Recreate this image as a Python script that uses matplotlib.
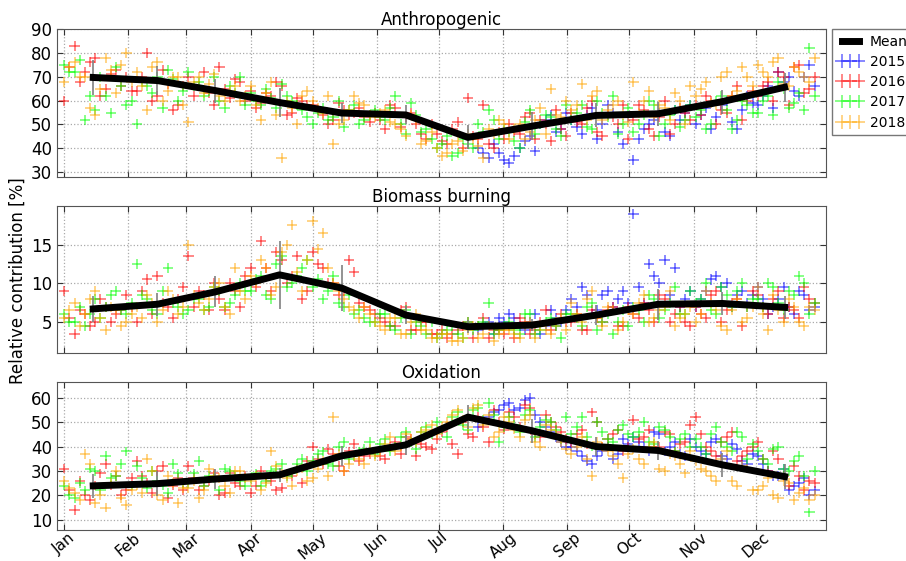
import numpy as np
import matplotlib
matplotlib.use("Agg")
import matplotlib.pyplot as plt

months = ["Jan", "Feb", "Mar", "Apr", "May", "Jun", "Jul", "Aug", "Sep", "Oct", "Nov", "Dec"]
month_start = [0, 31, 59, 90, 120, 151, 181, 212, 243, 273, 304, 334]
month_mid = [14, 45, 73, 104, 134, 165, 195, 226, 257, 287, 318, 348]

days_a = list(range(0, 361, 5))                 # 2016-2018, first sampling
days_b = [d + 2.5 for d in days_a]              # 2016-2018, second sampling
days_2015_a = list(range(200, 361, 5))          # 2015 starts in late July
days_2015_b = [d + 2.5 for d in days_2015_a]

# ---------------- Anthropogenic ----------------
anth_mean = [69.7, 68.4, 64.2, 59.2, 54.8, 54.0, 44.6, 49.3, 53.8, 54.5, 59.6, 65.6]
anth_std = [7.5, 6, 5, 6, 4, 4, 5, 6, 5, 5, 5, 6]
anth_2015 = [40, 36, 38,
             34, 40, 45, 50, 54, 48,
             52, 46, 57, 50, 55, 42,
             35, 48, 52, 47, 56, 55,
             50, 57, 53, 60, 48, 62,
             58, 66, 72, 70, 62, 75]
anth_2015_b = [38, 42, 35,
               37, 43, 39, 52, 47, 55,
               49, 54, 44, 58, 47, 53,
               44, 50, 55, 45, 52, 58,
               54, 48, 58, 51, 56, 59,
               62, 57, 68, 64, 70, 66]
anth_2016 = [60, 83, 72, 78, 65, 73, 70,
             64, 80, 62, 67, 58,
             70, 66, 63, 74, 61, 68,
             64, 59, 62, 66, 55, 60,
             58, 54, 52, 56, 55, 53,
             55, 48, 57, 53, 50, 44,
             46, 42, 51, 61, 44, 42, 47,
             50, 46, 55, 52, 43, 48,
             55, 50, 60, 45, 53, 58,
             52, 56, 45, 60, 50, 55,
             58, 62, 50, 55, 66, 60,
             62, 68, 72, 58, 75, 65]
anth_2016_b = [74, 68, 76, 62, 71, 66, 64,
               70, 60, 73, 56, 66,
               62, 72, 58, 65, 69, 60,
               57, 63, 68, 54, 61, 58,
               56, 50, 59, 54, 57, 51,
               52, 58, 49, 55, 46, 50,
               43, 48, 40, 45, 58, 40, 44,
               47, 53, 44, 50, 56, 45,
               51, 57, 47, 54, 50, 44,
               58, 48, 53, 46, 57, 52,
               54, 60, 56, 62, 52, 64,
               66, 60, 70, 74, 63, 70]
anth_2017 = [75, 72, 52, 56, 62, 74, 58,
             50, 66, 70, 73, 60,
             72, 68, 64, 60, 66, 70,
             63, 58, 61, 67, 60, 56,
             50, 57, 53, 49, 58, 52,
             56, 52, 62, 46, 54, 48,
             40, 45, 38, 42, 50, 56, 44,
             47, 40, 56, 50, 53, 45,
             52, 58, 48, 55, 62, 50,
             47, 54, 58, 50, 56, 52,
             53, 48, 60, 56, 52, 58,
             55, 62, 68, 57, 63, 82]
anth_2017_b = [72, 77, 62, 70, 55, 66, 60,
               68, 63, 57, 69, 64,
               66, 62, 70, 57, 63, 58,
               60, 65, 57, 62, 58, 53,
               55, 52, 60, 56, 50, 54,
               53, 57, 50, 59, 47, 44,
               42, 37, 44, 40, 47, 52, 48,
               43, 51, 46, 54, 48, 58,
               55, 49, 60, 53, 46, 57,
               50, 60, 45, 54, 49, 58,
               56, 50, 62, 48, 60, 55,
               60, 54, 65, 59, 56, 62]
anth_2018 = [68, 76, 70, 54, 78, 63, 80,
             72, 56, 76, 64, 70,
             51, 70, 67, 62, 64, 60,
             66, 52, 68, 36, 57, 62,
             60, 55, 42, 52, 62, 58,
             53, 56, 50, 45, 52, 43,
             40, 38, 43, 46, 41, 48, 52,
             44, 50, 47, 57, 65, 53,
             56, 67, 62, 52, 58, 54,
             68, 60, 53, 57, 63, 50,
             62, 68, 58, 72, 64, 70,
             75, 70, 78, 66, 72, 68]
anth_2018_b = [74, 70, 57, 65, 73, 75, 68,
               66, 74, 60, 70, 58,
               68, 63, 71, 60, 66, 62,
               58, 63, 54, 60, 50, 64,
               57, 62, 50, 56, 59, 54,
               55, 51, 48, 54, 42, 47,
               37, 42, 39, 44, 36, 46, 50,
               48, 44, 52, 46, 54, 60,
               58, 52, 64, 56, 60, 51,
               55, 64, 58, 52, 60, 66,
               65, 59, 70, 62, 74, 66,
               72, 76, 67, 74, 70, 78]

# ---------------- Biomass burning ----------------
bio_mean = [6.7, 7.3, 8.9, 11.1, 9.4, 5.9, 4.4, 4.6, 5.9, 7.3, 7.4, 6.9]
bio_std = [1.7, 1.5, 2.0, 4.4, 3.0, 1.2, 0.8, 0.8, 1.3, 2.0, 1.5, 1.5]
bio_2015 = [4, 5, 5.5,
            6, 4.5, 5, 3.5, 6.5, 5,
            8, 9.5, 6, 8.5, 7, 9,
            19, 7.5, 11, 13, 12, 8,
            7, 9, 11, 10, 8.5, 7.5,
            9.5, 6, 8, 7, 9, 6.5]
bio_2015_b = [4.5, 3.5, 5,
              5.5, 4, 6, 4.5, 5.5, 6.5,
              7, 8.5, 6.5, 9, 8, 7.5,
              9.5, 12.5, 10, 8.5, 7, 9,
              8, 10.5, 9.5, 7, 9, 8.5,
              8, 7, 9.5, 6, 8.5, 7]
bio_2016 = [9, 3.5, 6, 5, 7, 6, 8.5,
            5, 10.5, 11, 7, 8,
            13.5, 9, 6.5, 8, 10, 7,
            12, 15.5, 9, 13, 11, 8,
            14, 12, 10, 9, 11.5, 7,
            6, 5, 4.5, 7, 4, 5,
            3.5, 3, 4, 5, 4.5, 3, 4,
            4.5, 5.5, 3.5, 5, 4, 6,
            5, 4, 6.5, 5, 7, 4.5,
            6, 7.5, 5, 8, 6, 5,
            7, 5.5, 9, 6.5, 8, 7,
            8.5, 6, 9, 7, 5.5, 8]
bio_2016_b = [5.5, 6.5, 4.5, 8, 5, 6.5, 7,
              9, 6, 7.5, 5.5, 9.5,
              7, 8.5, 10, 6.5, 9, 11,
              9.5, 12, 14, 10, 13.5, 9,
              12.5, 10, 8.5, 13, 7.5, 6.5,
              5.5, 4.5, 6.5, 4, 5, 3.5,
              4, 3.5, 4.5, 3, 5.5, 4, 3.5,
              3, 5, 4, 6.5, 4.5, 5,
              6, 4, 5.5, 6.5, 4.5, 7,
              5.5, 6.5, 8.5, 5, 7, 4.5,
              6, 8.5, 5, 7.5, 4.5, 9,
              7, 8, 5.5, 6.5, 9.5, 7.5]
bio_2017 = [6, 5, 4.5, 8, 7, 9, 6,
            12.5, 8, 6, 12, 7,
            6.5, 8, 7, 9, 7.5, 10,
            9, 11, 8, 13.5, 10, 12,
            9.5, 8, 11, 7, 6, 5.5,
            5, 6, 4, 6.5, 5, 3.5,
            3, 4, 3.5, 5, 4.5, 7.5, 4,
            5, 3.5, 6, 4, 5.5, 3,
            6, 4.5, 7.5, 5, 3.5, 6.5,
            7, 5, 8, 6.5, 9.5, 6,
            7.5, 10, 6, 8.5, 9, 7,
            8, 10, 7.5, 9, 11, 6]
bio_2017_b = [5, 7, 6, 5.5, 8.5, 6.5, 7.5,
              8.5, 6.5, 9, 7.5, 6,
              8, 6.5, 9.5, 7, 8.5, 9,
              10.5, 8.5, 12.5, 9.5, 11, 13,
              10.5, 9, 7.5, 8.5, 6.5, 5,
              6, 4.5, 5.5, 3.5, 4.5, 5,
              3.5, 4.5, 3, 4, 5, 3.5, 4.5,
              4, 6, 3.5, 5, 4.5, 6,
              5.5, 7, 4, 6, 5, 4.5,
              6.5, 8.5, 5.5, 7.5, 6, 9,
              8, 6.5, 9.5, 7, 10, 8,
              7, 9.5, 6.5, 8.5, 10, 7.5]
bio_2018 = [5.5, 7.5, 6, 9, 4, 6.5, 5,
            7, 8.5, 5, 9, 6,
            15, 7.5, 8, 10, 6, 9,
            11, 13, 8.5, 14, 17.5, 9,
            18, 16.5, 10, 8, 6.5, 7,
            5, 4, 5.5, 3.5, 6, 4,
            3, 3.5, 2.5, 4, 3, 4.5, 3.5,
            4, 3, 5, 4.5, 3.5, 5.5,
            7.5, 5, 9, 4.5, 6.5, 5,
            6, 8.5, 5.5, 7, 4.5, 6,
            5, 9, 6.5, 4, 8, 5.5,
            9.5, 4, 6.5, 8, 5, 7]
bio_2018_b = [6.5, 4.5, 8, 5.5, 7, 4.5, 6,
              5.5, 7.5, 6.5, 8, 7,
              8.5, 6.5, 9.5, 7, 12, 8,
              10, 12, 9.5, 15, 11.5, 13,
              14.5, 12, 9, 7, 5.5, 6,
              4.5, 5.5, 3.5, 5, 4, 3,
              3.5, 2.5, 3, 4.5, 3.5, 2.5, 4,
              3.5, 4.5, 3, 4, 5, 4,
              6, 8, 5.5, 7, 4, 6.5,
              7.5, 5, 6.5, 9, 5.5, 7,
              6, 7.5, 4.5, 6.5, 5, 7,
              6, 8.5, 5, 7, 4.5, 6.5]

# ---------------- Oxidation ----------------
oxi_mean = [23.9, 24.8, 26.7, 28.4, 36.2, 40.7, 52.1, 46.5, 40.0, 38.4, 32.5, 27.7]
oxi_std = [5, 5, 4, 3, 4, 4, 5, 5, 4, 4, 5, 5]
oxi_2015 = [48, 52, 55,
            58, 56, 60, 50, 46, 42,
            40, 36, 33, 38, 35, 43,
            44, 40, 46, 38, 42, 36,
            40, 37, 43, 35, 39, 33,
            36, 30, 28, 22, 25, 20]
oxi_2015_b = [50, 54, 57,
              55, 59, 53, 48, 44, 40,
              38, 34, 36, 40, 37, 41,
              42, 38, 45, 40, 37, 43,
              38, 42, 36, 41, 34, 37,
              33, 28, 31, 24, 27, 22]
oxi_2016 = [31, 14, 20, 24, 33, 28, 22,
            34, 25, 30, 19, 27,
            32, 22, 26, 20, 29, 24,
            21, 30, 26, 23, 28, 25,
            40, 33, 37, 30, 41, 36,
            38, 35, 42, 44, 36, 40,
            43, 48, 37, 45, 52, 42, 50,
            54, 48, 56, 44, 50, 46,
            42, 47, 54, 40, 45, 38,
            51, 44, 40, 46, 38, 42,
            52, 40, 36, 44, 34, 38,
            42, 30, 35, 24, 28, 26]
oxi_2016_b = [22, 26, 18, 29, 24, 20, 27,
              28, 21, 32, 24, 22,
              27, 24, 29, 21, 25, 28,
              24, 27, 22, 29, 31, 34,
              35, 39, 32, 38, 34, 37,
              36, 40, 37, 43, 41, 39,
              46, 41, 50, 44, 48, 55, 47,
              52, 57, 45, 53, 48, 43,
              45, 41, 50, 43, 47, 40,
              43, 47, 40, 45, 41, 49,
              45, 38, 42, 46, 36, 40,
              35, 38, 28, 32, 22, 25]
oxi_2017 = [24, 19, 22, 30, 36, 28, 38,
            32, 23, 26, 21, 29,
            25, 34, 28, 22, 30, 26,
            27, 24, 30, 33, 29, 35,
            34, 38, 32, 42, 36, 39,
            37, 43, 40, 46, 39, 48,
            50, 44, 54, 47, 56, 58, 42,
            52, 46, 55, 48, 50, 43,
            45, 52, 40, 46, 42, 49,
            44, 50, 41, 47, 38, 45,
            43, 37, 48, 40, 46, 35,
            38, 33, 40, 30, 36, 13]
oxi_2017_b = [20, 25, 31, 22, 27, 33, 24,
              27, 30, 24, 33, 25,
              29, 24, 27, 31, 28, 24,
              29, 26, 31, 28, 33, 30,
              37, 33, 40, 35, 38, 42,
              41, 38, 44, 42, 46, 45,
              47, 52, 49, 55, 51, 53, 48,
              49, 53, 44, 51, 47, 52,
              48, 44, 50, 43, 47, 45,
              46, 42, 48, 44, 43, 40,
              40, 45, 42, 38, 44, 41,
              35, 39, 31, 34, 28, 30]
oxi_2018 = [26, 21, 37, 17, 15, 30, 16,
            24, 35, 20, 28, 17,
            23, 19, 31, 27, 21, 30,
            26, 22, 38, 29, 24, 31,
            27, 34, 52, 30, 36, 33,
            36, 41, 38, 45, 42, 47,
            45, 50, 55, 48, 57, 53, 46,
            50, 44, 53, 40, 47, 42,
            37, 44, 28, 40, 36, 27,
            39, 33, 42, 30, 36, 29,
            34, 30, 26, 38, 24, 31,
            22, 27, 19, 25, 21, 18]
oxi_2018_b = [23, 18, 33, 20, 25, 19, 22,
              21, 30, 18, 25, 23,
              26, 22, 28, 24, 30, 27,
              28, 25, 32, 27, 30, 26,
              31, 28, 37, 33, 35, 39,
              38, 44, 40, 43, 46, 49,
              48, 53, 51, 56, 49, 44, 52,
              47, 51, 42, 49, 45, 39,
              40, 35, 42, 38, 33, 37,
              35, 40, 31, 37, 33, 38,
              31, 28, 35, 26, 32, 22,
              24, 20, 26, 18, 23, 20]

years = ["2015", "2016", "2017", "2018"]
colors = ["#0000ff", "#ff0000", "#00ff00", "#ffa500"]

panels = [
    ("Anthropogenic", anth_mean, anth_std,
     [(anth_2015, anth_2015_b), (anth_2016, anth_2016_b), (anth_2017, anth_2017_b), (anth_2018, anth_2018_b)],
     (28, 90), [30, 40, 50, 60, 70, 80, 90], 2.1),
    ("Biomass burning", bio_mean, bio_std,
     [(bio_2015, bio_2015_b), (bio_2016, bio_2016_b), (bio_2017, bio_2017_b), (bio_2018, bio_2018_b)],
     (1, 20), [5, 10, 15], 0.65),
    ("Oxidation", oxi_mean, oxi_std,
     [(oxi_2015, oxi_2015_b), (oxi_2016, oxi_2016_b), (oxi_2017, oxi_2017_b), (oxi_2018, oxi_2018_b)],
     (5.8, 66.5), [10, 20, 30, 40, 50, 60], 2.0),
]

fig = plt.figure(figsize=(9.06, 5.61), dpi=100)
fig.patch.set_facecolor("white")
left, width = 0.0629, 0.8488
rects = [(left, 0.6845, width, 0.2638), (left, 0.3708, width, 0.262), (left, 0.0553, width, 0.2638)]

for i, (title, mean, std, series, ylim, yticks, yerr) in enumerate(panels):
    ax = fig.add_axes(rects[i])
    hs = []
    for yr, col, (va, vb) in zip(years, colors, series):
        if yr == "2015":
            da, db = days_2015_a, days_2015_b
        else:
            da, db = days_a, days_b
        h = ax.errorbar(da, va, xerr=2.5, yerr=yerr, fmt="none", ecolor=col,
                        elinewidth=1.2, alpha=0.55, label=yr)
        ax.errorbar(db, vb, xerr=2.5, yerr=yerr, fmt="none", ecolor=col,
                    elinewidth=1.2, alpha=0.55)
        hs.append(h)
    ax.errorbar(month_mid, mean, yerr=std, color="black", lw=5,
                ecolor="gray", elinewidth=1.2, zorder=5)
    hm, = ax.plot([], [], color="black", lw=5, label="Mean")
    ax.set_xlim(-3.5, 368)
    ax.set_ylim(*ylim)
    ax.set_yticks(yticks)
    ax.set_xticks(month_start)
    ax.grid(True, linestyle=":", color="#aaaaaa", linewidth=0.9)
    ax.tick_params(direction="in", labelsize=12, length=4, colors="#333333",
                   labelcolor="black", top=True, right=True)
    for s in ax.spines.values():
        s.set_color("#555555")
    ax.set_title(title, fontsize=12, pad=3)
    if i < 2:
        ax.set_xticklabels([])
    else:
        ax.set_xticklabels(months, rotation=40, ha="center", fontsize=11)
        ax.tick_params(axis="x", pad=0)
    if i == 0:
        leg = ax.legend([hm] + hs, ["Mean"] + years, loc="upper left",
                        bbox_to_anchor=(1.008, 1.0), fontsize=10, numpoints=3,
                        handlelength=1.8, handletextpad=0.5, fancybox=False,
                        borderaxespad=0.0, labelspacing=0.45)
        leg.get_frame().set_edgecolor("#555555")

fig.text(0.02, 0.5, "Relative contribution [%]", rotation=90, va="center",
         ha="center", fontsize=12)

fig.savefig("out.png", dpi=100)
